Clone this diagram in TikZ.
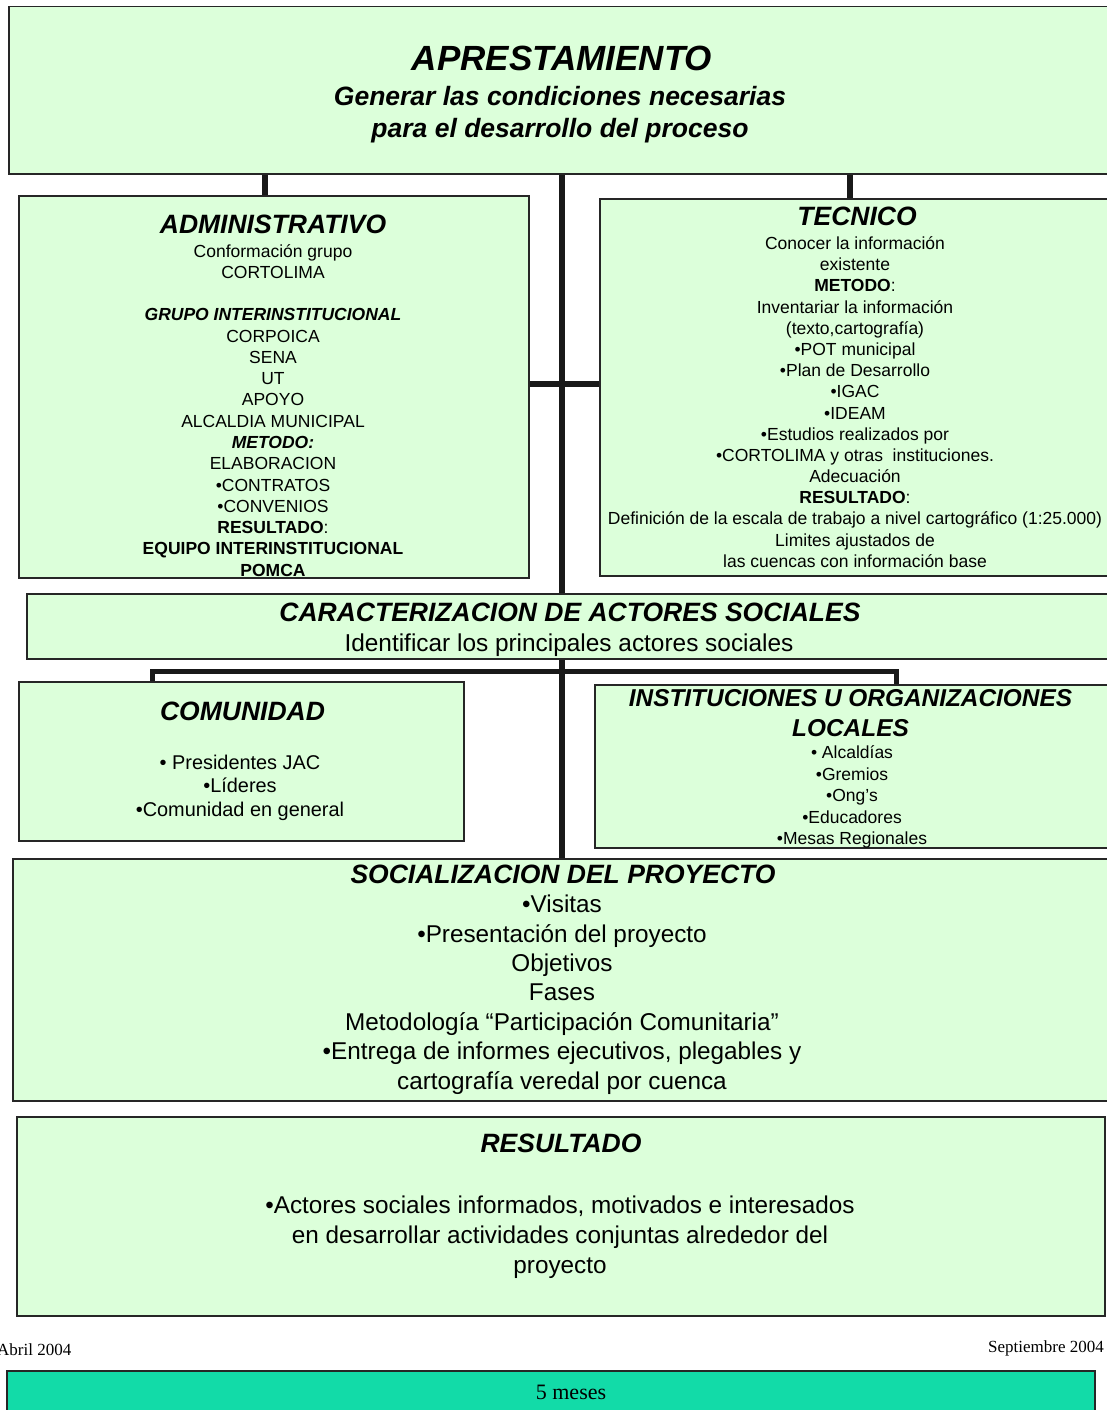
\documentclass[tikz,border=0pt]{standalone}
\usepackage{fontspec}
\setmainfont{Liberation Sans}
\newfontfamily\serifa{Liberation Serif}
\usetikzlibrary{backgrounds}

\definecolor{verde}{RGB}{220,255,218}
\definecolor{turquesa}{RGB}{18,219,168}
\newcommand{\tam}[2]{\fontsize{#1}{#2}\selectfont}

\tikzset{
  caja/.style={draw=black!85, line width=1.5pt, fill=verde, anchor=north west, inner sep=0pt},
  titulo/.style={anchor=base, inner sep=0pt, font=\tam{26.5}{30}\bfseries\itshape},
  cuerpo/.style={anchor=north, inner sep=0pt, align=center},
  fecha/.style={inner sep=0pt, font=\serifa\tam{17}{20}},
  enlace/.style={line width=6pt, black!90},
}

\begin{document}
\begin{tikzpicture}[x=1pt,y=-1pt]
\useasboundingbox (0,0) rectangle (1107,1410);

% fase de aprestamiento
\node[caja, minimum width=1102pt, minimum height=167pt] (top) at (8,6) {};
\node[anchor=base, inner sep=0pt, font=\tam{35}{40}\bfseries\itshape] (top-tit) at (562,70.5) {APRESTAMIENTO};
\node[cuerpo, font=\tam{26.5}{32}\bfseries\itshape] (top-txt) at (560,86) {Generar las condiciones necesarias\\para el desarrollo del proceso};

% administrativo
\node[caja, minimum width=510pt, minimum height=382pt] (adm) at (18,195) {};
\node[titulo] (adm-tit) at (273,233.3) {ADMINISTRATIVO};
\node[cuerpo, font=\tam{17.5}{21.27}] (adm-txt) at (273,244) {Conformación grupo\\CORTOLIMA\\[21.27pt]\textbf{\textit{GRUPO INTERINSTITUCIONAL}}\\CORPOICA\\SENA\\UT\\APOYO\\ALCALDIA MUNICIPAL\\\textbf{\textit{METODO:}}\\ELABORACION\\•CONTRATOS\\ •CONVENIOS\\\textbf{RESULTADO}:\\\textbf{EQUIPO INTERINSTITUCIONAL}\\\textbf{POMCA}};

% tecnico
\node[caja, minimum width=511pt, minimum height=377pt] (tec) at (599,198) {};
\node[titulo] (tec-tit) at (857,225) {TECNICO};
\node[cuerpo, font=\tam{17.5}{21.18}] (tec-txt) at (855,236.5) {Conocer la información\\existente\\\textbf{METODO}:\\Inventariar la información\\(texto,cartografía)\\•POT municipal\\•Plan de Desarrollo\\•IGAC\\•IDEAM\\•Estudios realizados por\\•CORTOLIMA y otras\ \ instituciones.\\Adecuación\\\textbf{RESULTADO}:\\Definición de la escala de trabajo a nivel cartográfico (1:25.000)\\Limites ajustados de\\las cuencas con información base};

% actores sociales
\node[caja, minimum width=1084pt, minimum height=65pt] (car) at (26,593) {};
\node[titulo] (car-tit) at (570,621.5) {CARACTERIZACION DE ACTORES SOCIALES};
\node[anchor=base, inner sep=0pt, font=\tam{24.4}{28}] (car-txt) at (569,651.5) {Identificar los principales actores sociales};

\node[caja, minimum width=445pt, minimum height=159pt] (com) at (18,681) {};
\node[titulo] (com-tit) at (242.5,720.5) {COMUNIDAD};
\node[cuerpo, font=\tam{19.9}{23.5}] (com-txt) at (240,754.5) {• Presidentes JAC\\•Líderes\\•Comunidad en general};

\node[caja, minimum width=516pt, minimum height=163pt] (ins) at (594,684) {};
\node[cuerpo, font=\tam{24.4}{30}\bfseries\itshape] (ins-tit) at (850.5,689) {INSTITUCIONES U ORGANIZACIONES\\LOCALES};
\node[cuerpo, font=\tam{17.5}{21.5}] (ins-txt) at (852,745.7) {• Alcaldías\\•Gremios\\•Ong’s\\•Educadores\\•Mesas Regionales};

% socializacion
\node[caja, minimum width=1098pt, minimum height=242pt] (soc) at (12,858) {};
\node[titulo] (soc-tit) at (563,883.5) {SOCIALIZACION DEL PROYECTO};
\node[cuerpo, font=\tam{24.3}{29.4}] (soc-txt) at (562,894.8) {•Visitas\\•Presentación del proyecto\\Objetivos\\Fases\\Metodología “Participación Comunitaria”\\•Entrega de informes ejecutivos, plegables y\\cartografía veredal por cuenca};

% resultado
\node[caja, minimum width=1088pt, minimum height=199pt] (res) at (16,1116) {};
\node[titulo] (res-tit) at (561,1152.5) {RESULTADO};
\node[cuerpo, font=\tam{24.3}{30}] (res-txt) at (560,1195.5) {•Actores sociales informados, motivados e interesados\\en desarrollar actividades conjuntas alrededor del\\proyecto};

% tiempo
\node[fecha, anchor=base west] (ini) at (-3,1355) {Abril 2004};
\node[fecha, anchor=base east] (fin) at (1104,1352) {Septiembre 2004};
\node[caja, fill=turquesa, minimum width=1088pt, minimum height=60pt] (mes) at (6,1370) {};
\node[anchor=base, inner sep=0pt, font=\serifa\tam{22}{26}] (mes-txt) at (571,1399) {5 meses};

% conectores
\coordinate (adm-in) at ([xshift=-9pt]adm.north);
\coordinate (tec-in) at ([xshift=-5.5pt]tec.north);
\coordinate (barL) at (152,671);
\coordinate (barR) at (896,671);
\begin{scope}[on background layer]
\fill[white] (0,0) rectangle (1107,1410);
\draw[enlace] (adm-in |- top.south) -- (adm-in);
\draw[enlace] (tec-in |- top.south) -- (tec-in);
\draw[enlace] (top.south -| soc.north) -- (soc.north);
\draw[enlace] ([yshift=3pt]adm.east) -- ([yshift=3pt]adm.east -| tec.west);
\draw[enlace, line width=5pt] (barL |- com.north) -- (barL) -- (barR) -- (barR |- ins.north);
\end{scope}

\end{tikzpicture}
\end{document}
